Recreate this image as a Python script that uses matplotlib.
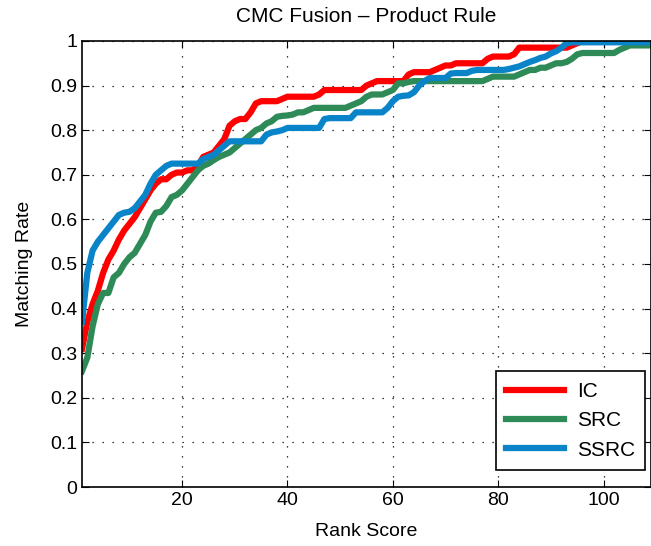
import matplotlib
matplotlib.use('Agg')
from matplotlib import pyplot as plt
import numpy as np

plt.rcParams['font.family'] = ['Liberation Sans', 'DejaVu Sans']

rank = np.arange(1, 111)

ic = [0.31, 0.37, 0.41, 0.44, 0.48, 0.51, 0.53, 0.555, 0.575, 0.59,
      0.605, 0.625, 0.645, 0.665, 0.68, 0.69, 0.69, 0.70, 0.705, 0.705,
      0.71, 0.71, 0.72, 0.74, 0.745, 0.75, 0.765, 0.78, 0.81, 0.82,
      0.825, 0.825, 0.84, 0.86, 0.865, 0.865, 0.865, 0.865, 0.87, 0.875,
      0.875, 0.875, 0.875, 0.875, 0.875, 0.88, 0.89, 0.89, 0.89, 0.89,
      0.89, 0.89, 0.89, 0.89, 0.90, 0.905, 0.91, 0.91, 0.91, 0.91,
      0.91, 0.91, 0.925, 0.93, 0.93, 0.93, 0.93, 0.935, 0.94, 0.945,
      0.945, 0.95, 0.95, 0.95, 0.95, 0.95, 0.95, 0.96, 0.965, 0.965,
      0.965, 0.965, 0.97, 0.985, 0.985, 0.985, 0.985, 0.985, 0.985, 0.985,
      0.985, 0.985, 0.985, 0.99, 0.995, 1.0, 1.0, 1.0, 1.0, 1.0,
      1.0, 1.0, 1.0, 1.0, 1.0, 1.0, 1.0, 1.0, 1.0, 1.0]

src = [0.26, 0.29, 0.36, 0.41, 0.435, 0.435, 0.47, 0.48, 0.50, 0.515,
       0.525, 0.545, 0.565, 0.595, 0.615, 0.617, 0.63, 0.65, 0.655, 0.665,
       0.68, 0.695, 0.71, 0.72, 0.725, 0.733, 0.74, 0.745, 0.75, 0.76,
       0.77, 0.78, 0.79, 0.80, 0.805, 0.815, 0.82, 0.83, 0.832, 0.833,
       0.835, 0.84, 0.84, 0.845, 0.85, 0.85, 0.85, 0.85, 0.85, 0.85,
       0.85, 0.855, 0.86, 0.865, 0.875, 0.88, 0.88, 0.88, 0.885, 0.89,
       0.905, 0.905, 0.908, 0.91, 0.91, 0.91, 0.91, 0.91, 0.91, 0.91,
       0.91, 0.91, 0.91, 0.91, 0.91, 0.91, 0.91, 0.915, 0.92, 0.92,
       0.92, 0.92, 0.92, 0.925, 0.93, 0.935, 0.935, 0.94, 0.94, 0.945,
       0.95, 0.95, 0.953, 0.96, 0.97, 0.973, 0.973, 0.973, 0.973, 0.973,
       0.973, 0.973, 0.98, 0.985, 0.99, 0.99, 0.99, 0.99, 0.99, 0.99]

ssrc = [0.37, 0.48, 0.53, 0.55, 0.565, 0.58, 0.595, 0.61, 0.615, 0.617,
        0.625, 0.64, 0.655, 0.68, 0.70, 0.71, 0.72, 0.725, 0.725, 0.725,
        0.725, 0.725, 0.725, 0.735, 0.74, 0.745, 0.755, 0.765, 0.775, 0.775,
        0.775, 0.775, 0.775, 0.775, 0.775, 0.79, 0.795, 0.797, 0.80, 0.805,
        0.805, 0.805, 0.805, 0.805, 0.805, 0.805, 0.825, 0.827, 0.827, 0.827,
        0.827, 0.827, 0.84, 0.84, 0.84, 0.84, 0.84, 0.84, 0.85, 0.865,
        0.875, 0.877, 0.878, 0.885, 0.90, 0.91, 0.917, 0.917, 0.917, 0.917,
        0.927, 0.928, 0.928, 0.928, 0.933, 0.935, 0.935, 0.935, 0.935, 0.935,
        0.935, 0.937, 0.94, 0.943, 0.948, 0.953, 0.957, 0.962, 0.965, 0.972,
        0.977, 0.985, 0.995, 0.997, 0.997, 0.997, 0.997, 0.997, 0.997, 0.997,
        0.997, 0.997, 0.997, 0.997, 0.997, 0.997, 0.997, 0.997, 0.997, 0.997]

fig = plt.figure(figsize=(6.51, 5.46), dpi=100)
ax = fig.add_axes([0.126, 0.108, 0.874, 0.817])

ax.plot(rank, ic, color='#ff0000', lw=4.5, label='IC')
ax.plot(rank, src, color='#2e8b57', lw=4.5, label='SRC')
ax.plot(rank, ssrc, color='#0a84c9', lw=4.5, label='SSRC')

ax.set_xlim(1, 109)
ax.set_ylim(0, 1)
ax.set_xticks([20, 40, 60, 80, 100])
ax.set_yticks(np.arange(0, 1.01, 0.1))
ax.set_yticklabels(['0', '0.1', '0.2', '0.3', '0.4', '0.5', '0.6', '0.7', '0.8', '0.9', '1'])
ax.tick_params(direction='in', top=True, right=True, labelsize=14, length=5)
ax.grid(True, color='black', linestyle=(0, (1, 7)), linewidth=0.9)
for s in ax.spines.values():
    s.set_linewidth(1.2)

ax.set_xlabel('Rank Score', fontsize=14, labelpad=10)
ax.set_ylabel('Matching Rate', fontsize=14, labelpad=12)
ax.set_title('CMC Fusion \u2013 Product Rule', fontsize=15, pad=14)

leg = ax.legend(loc='lower right', fontsize=15, fancybox=False, framealpha=1,
                edgecolor='black', handlelength=2.8, borderpad=0.5,
                handletextpad=0.6, borderaxespad=0, bbox_to_anchor=(0.99, 0.038))
leg.get_frame().set_linewidth(1.2)

fig.savefig('out.png', dpi=100)
